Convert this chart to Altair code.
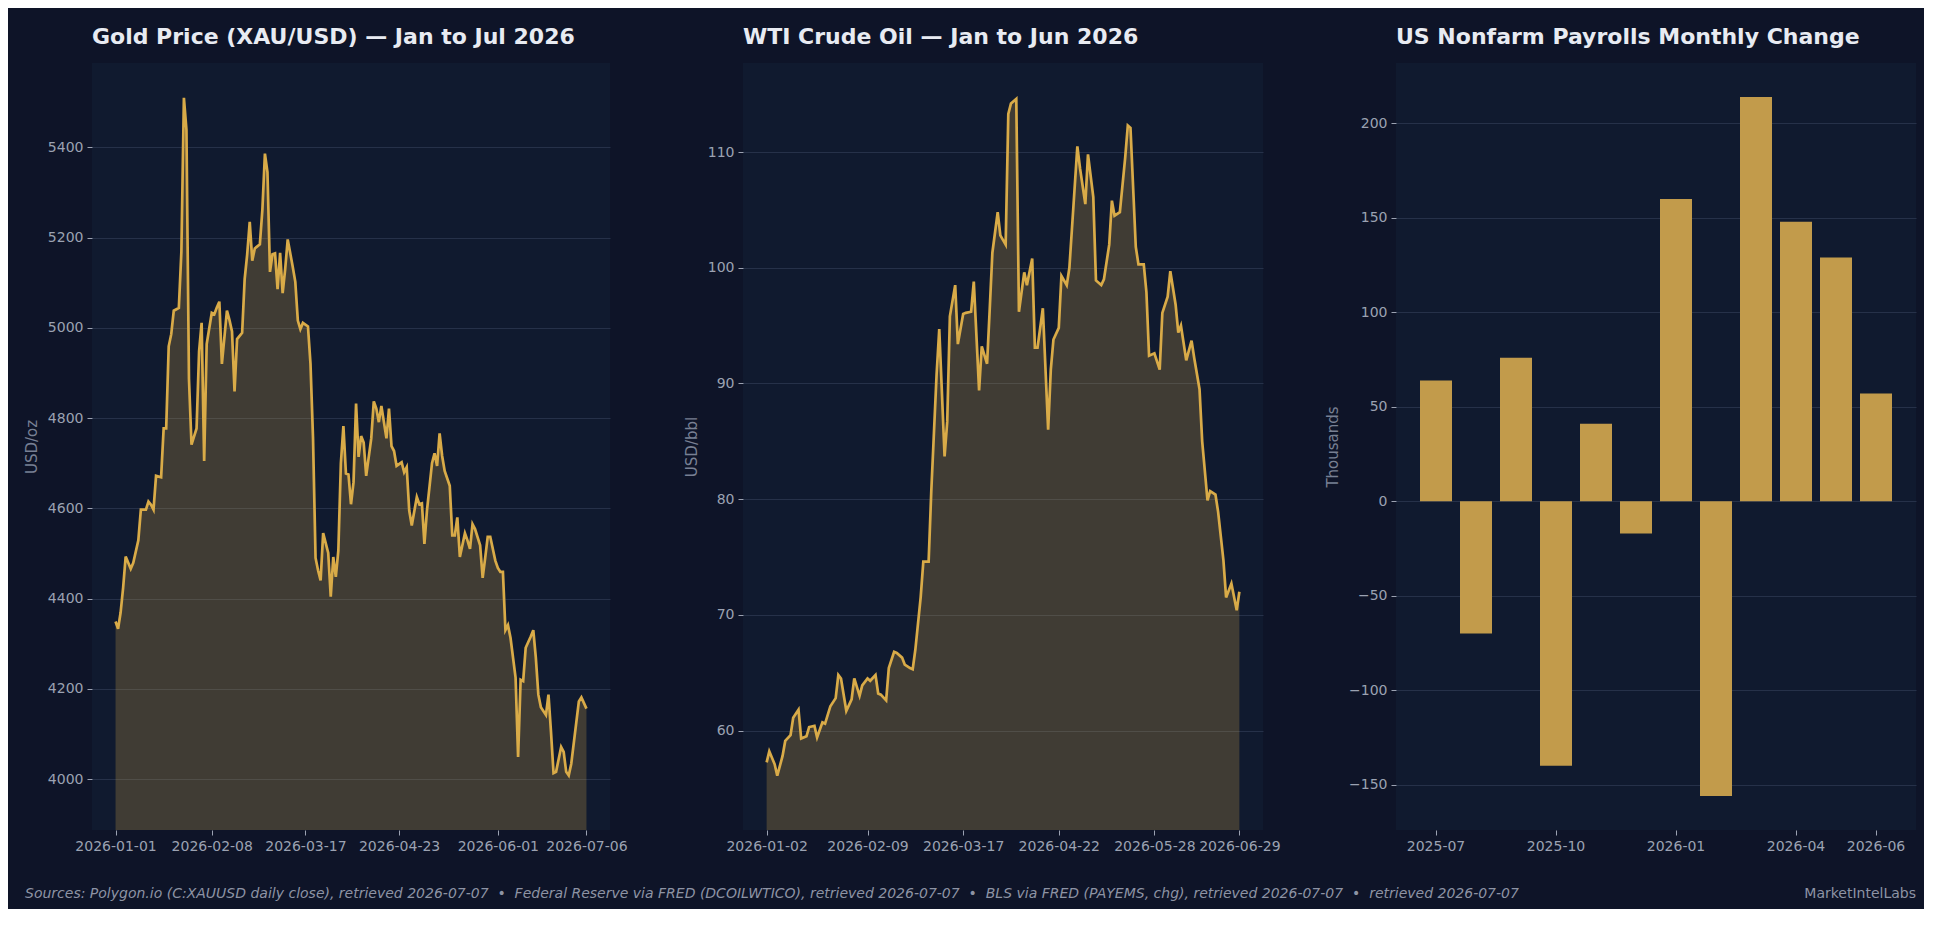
import pandas as pd
import altair as alt

# gold: days after 2026-01-01 and daily close (USD/oz)
gold_day = [0, 1, 2, 3, 4, 6, 7, 9, 10, 12,
            13, 14, 15, 16, 18, 19, 20, 21, 22, 23,
            25, 26, 27, 28, 29, 30, 32, 33, 34, 35,
            36, 38, 39, 40, 41, 42, 44, 45, 46, 47,
            48, 50, 51, 52, 53, 54, 55, 57, 58, 59,
            60, 61, 62, 63, 64, 65, 66, 67, 68, 70,
            71, 72, 73, 74, 76, 77, 78, 79, 80, 81,
            82, 84, 85, 86, 87, 88, 89, 90, 91, 92,
            93, 94, 95, 96, 97, 98, 99, 101, 102, 103,
            104, 105, 107, 108, 109, 110, 111, 113, 114, 115,
            116, 117, 119, 120, 121, 122, 123, 125, 126, 127,
            128, 129, 130, 132, 133, 134, 135, 136, 138, 139,
            140, 141, 142, 144, 145, 146, 147, 148, 150, 151,
            152, 153, 154, 155, 156, 158, 159, 160, 161, 162,
            164, 165, 166, 167, 168, 170, 171, 172, 173, 174,
            176, 177, 178, 179, 180, 182, 183, 184, 186]
gold_usd = [4349, 4333, 4369, 4424, 4493, 4466, 4479, 4529, 4597, 4597,
            4615, 4608, 4597, 4672, 4669, 4777, 4777, 4959, 4986, 5038,
            5044, 5168, 5510, 5439, 4887, 4741, 4777, 4948, 5011, 4705,
            4964, 5033, 5030, 5045, 5058, 4920, 5038, 5017, 4992, 4859,
            4975, 4989, 5108, 5163, 5235, 5149, 5176, 5185, 5262, 5386,
            5345, 5124, 5163, 5165, 5086, 5166, 5077, 5130, 5196, 5135,
            5102, 5016, 4997, 5011, 5003, 4920, 4755, 4490, 4462, 4440,
            4545, 4501, 4404, 4492, 4448, 4506, 4700, 4782, 4677, 4675,
            4609, 4658, 4832, 4714, 4760, 4746, 4672, 4755, 4837, 4821,
            4791, 4827, 4755, 4821, 4738, 4727, 4694, 4702, 4680, 4691,
            4595, 4562, 4625, 4609, 4611, 4521, 4595, 4700, 4722, 4694,
            4766, 4716, 4683, 4650, 4540, 4540, 4580, 4492, 4545, 4529,
            4510, 4565, 4554, 4518, 4446, 4490, 4537, 4537, 4484, 4468,
            4459, 4459, 4330, 4341, 4313, 4225, 4049, 4220, 4217, 4291,
            4316, 4330, 4269, 4187, 4159, 4142, 4187, 4104, 4013, 4016,
            4071, 4060, 4016, 4008, 4034, 4126, 4172, 4181, 4156]

# WTI: days after 2026-01-01 and close (USD/bbl)
oil_day = [1, 2, 4, 5, 7, 8, 10, 11, 13, 14,
           16, 17, 19, 20, 22, 23, 25, 27, 28, 29,
           31, 33, 34, 36, 37, 39, 40, 42, 43, 44,
           46, 47, 49, 50, 52, 53, 55, 56, 57, 59,
           60, 62, 63, 65, 66, 68, 69, 70, 72, 73,
           75, 76, 78, 79, 81, 82, 84, 85, 86, 88,
           89, 91, 92, 93, 95, 96, 98, 99, 101, 102,
           103, 105, 107, 108, 109, 111, 112, 114, 115, 116,
           118, 119, 121, 122, 124, 125, 127, 128, 130, 131,
           132, 134, 136, 137, 138, 140, 141, 143, 144, 145,
           147, 149, 150, 152, 153, 155, 156, 157, 159, 161,
           162, 164, 165, 167, 168, 170, 171, 173, 174, 176,
           178, 179]
oil_usd = [57.25, 58.2, 57.1, 56.1, 57.8, 59.1, 59.6, 61.1, 61.8, 59.3,
           59.5, 60.3, 60.4, 59.4, 60.7, 60.6, 62.1, 62.8, 64.8, 64.5,
           61.7, 62.7, 64.5, 63.0, 63.9, 64.5, 64.3, 64.8, 63.2, 63.1,
           62.6, 65.4, 66.8, 66.7, 66.3, 65.7, 65.4, 65.3, 67.0, 71.5,
           74.6, 74.6, 80.7, 90.8, 94.7, 83.7, 86.7, 95.8, 98.5, 93.4,
           96.0, 96.1, 96.2, 98.8, 89.4, 93.2, 91.7, 96.4, 101.3, 104.8,
           102.8, 102.0, 113.3, 114.2, 114.6, 96.2, 99.6, 98.5, 100.8, 93.1,
           93.1, 96.5, 86.0, 91.2, 93.8, 94.8, 99.3, 98.5, 100.0, 103.5,
           110.5, 108.6, 105.5, 109.8, 106.1, 98.9, 98.5, 99.0, 102.0, 105.8,
           104.5, 104.8, 109.5, 112.3, 112.1, 101.8, 100.3, 100.3, 97.9, 92.4,
           92.6, 91.2, 96.1, 97.5, 99.7, 96.8, 94.4, 95.0, 92.0, 93.7,
           92.2, 89.5, 85.0, 79.9, 80.7, 80.4, 78.9, 74.7, 71.5, 72.7,
           70.4, 72.0]

# nonfarm payrolls, monthly change (thousands)
pay_month = ["2025-07", "2025-08", "2025-09", "2025-10", "2025-11", "2025-12",
             "2026-01", "2026-02", "2026-03", "2026-04", "2026-05", "2026-06"]
pay_chg = [64, -70, 76, -140, 41, -17, 160, -156, 214, 148, 129, 57]

gold_ticks = ["2026-01-01", "2026-02-08", "2026-03-17", "2026-04-23", "2026-06-01", "2026-07-06"]
oil_ticks = ["2026-01-02", "2026-02-09", "2026-03-17", "2026-04-22", "2026-05-28", "2026-06-29"]
pay_ticks = ["2025-07", "2025-10", "2026-01", "2026-04", "2026-06"]
gold_yticks = [4000, 4200, 4400, 4600, 4800, 5000, 5200, 5400]
oil_yticks = [60, 70, 80, 90, 100, 110]
pay_yticks = [-150, -100, -50, 0, 50, 100, 150, 200]

SEP = "\u00a0\u00a0\u2022\u00a0\u00a0"
footer = SEP.join([
    "Sources: Polygon.io (C:XAUUSD daily close), retrieved 2026-07-07",
    "Federal Reserve via FRED (DCOILWTICO), retrieved 2026-07-07",
    "BLS via FRED (PAYEMS, chg), retrieved 2026-07-07",
    "retrieved 2026-07-07",
])
brand = "MarketIntelLabs"

BG = "#0e1428"
PANEL = "#101a2f"
GOLD = "#d9ab48"
BAR = "#c29b4b"
GRID = "#263149"
LABEL = "#9ba2b2"
AXTITLE = "#788094"
TITLE = "#e8ebf2"
FOOT = "#8d93a4"
FONT = "DejaVu Sans"
H = 767


def ms(day, hours=0.0):
    return int((pd.Timestamp(day, tz="UTC") + pd.Timedelta(hours=hours)).value // 10**6)


def to_dates(days):
    return (pd.Timestamp("2026-01-01") + pd.to_timedelta(days, unit="D")).strftime("%Y-%m-%d")


def title(text):
    return alt.TitleParams(text, anchor="start", frame="group", offset=14, fontSize=22,
                           font=FONT, fontWeight="bold", color=TITLE)


def price_panel(days, values, ttl, ylab, ydom, yticks, xdom, xticks, width):
    df = pd.DataFrame({"date": to_dates(days), "price": values})
    base = alt.Chart(df).encode(
        x=alt.X("date:T", title=None,
                scale=alt.Scale(type="utc", domain=xdom),
                axis=alt.Axis(values=[ms(t) for t in xticks], format="%Y-%m-%d",
                              labelFlush=False, labelOverlap=False)),
        y=alt.Y("price:Q", title=ylab,
                scale=alt.Scale(domain=ydom, zero=False, nice=False),
                axis=alt.Axis(values=yticks, format="d")),
    )
    area = base.mark_area(color=GOLD, opacity=0.24, clip=True)
    line = base.mark_line(color=GOLD, strokeWidth=2.7, clip=True)
    return alt.layer(area, line).properties(width=width, height=H, title=title(ttl))


gold = price_panel(gold_day, gold_usd, "Gold Price (XAU/USD) \u2014 Jan to Jul 2026", "USD/oz",
                   [3887, 5587], gold_yticks,
                   [ms("2025-12-22", 16.8), ms("2026-07-15", 7.2)], gold_ticks, 518)

foot_text = alt.Chart(pd.DataFrame({"t": [footer]})).mark_text(
    align="left", baseline="middle", font=FONT, fontSize=14, fontStyle="italic", color=FOOT
).encode(x=alt.value(-67), y=alt.value(831), text="t:N")
gold = alt.layer(gold, foot_text)

oil = price_panel(oil_day, oil_usd, "WTI Crude Oil \u2014 Jan to Jun 2026", "USD/bbl",
                  [51.4, 117.7], oil_yticks,
                  [ms("2025-12-24", 2.4), ms("2026-07-07", 21.6)], oil_ticks, 520)

pay_df = pd.DataFrame({"month": pay_month, "change": pay_chg})
bars = alt.Chart(pay_df).mark_bar(color=BAR).encode(
    x=alt.X("month:O", title=None, sort=None,
            scale=alt.Scale(paddingInner=0.2, paddingOuter=0.6),
            axis=alt.Axis(values=pay_ticks, labelAngle=0)),
    y=alt.Y("change:Q", title="Thousands",
            scale=alt.Scale(domain=[-174, 232], nice=False),
            axis=alt.Axis(values=pay_yticks, format="d")),
)
brand_text = alt.Chart(pd.DataFrame({"t": [brand]})).mark_text(
    align="right", baseline="middle", font=FONT, fontSize=14, color=FOOT
).encode(x=alt.value(520), y=alt.value(831), text="t:N")
pay = alt.layer(bars, brand_text).properties(
    width=520, height=H, title=title("US Nonfarm Payrolls Monthly Change"))

chart = alt.hconcat(gold, oil, pay, spacing=133, bounds="flush").properties(
    padding={"left": 16, "top": 18, "right": 8, "bottom": 8},
    background=BG,
).configure_axis(
    labelFont=FONT, labelFontSize=14, labelColor=LABEL, labelPadding=4,
    titleFont=FONT, titleFontSize=15, titleColor=AXTITLE, titleFontWeight="normal", titlePadding=8,
    tickColor=LABEL, tickSize=5, tickWidth=1, domain=False,
    gridColor=GRID, gridWidth=1,
).configure_axisX(grid=False).configure_view(fill=PANEL, strokeWidth=0)

chart.save("out.html", embed_options={"renderer": "svg", "actions": False})
